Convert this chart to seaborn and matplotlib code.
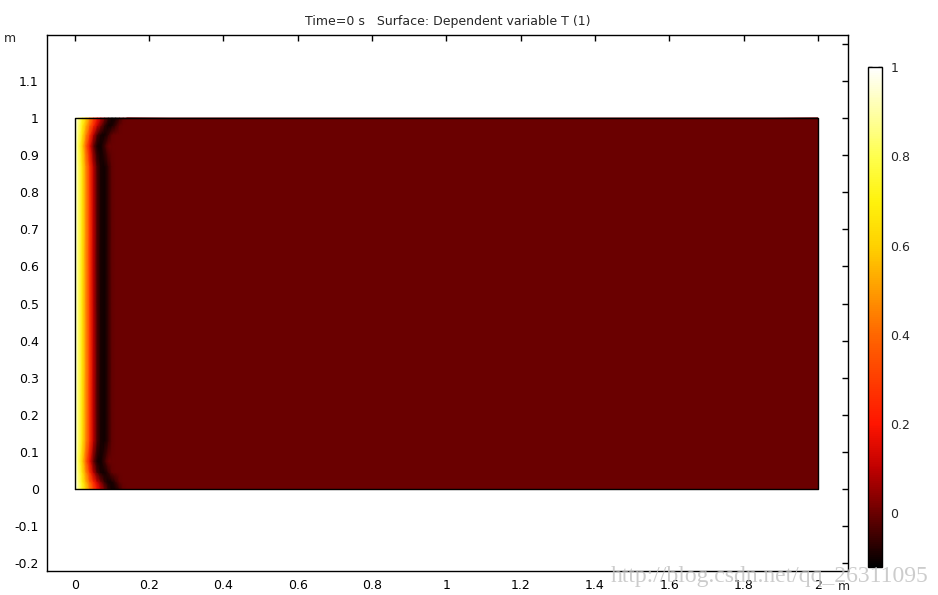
import numpy as np
import matplotlib
matplotlib.use("Agg")
import matplotlib.pyplot as plt
import seaborn as sns
from matplotlib.colors import LinearSegmentedColormap

# grid nodes of the temperature field (m)
x_nodes = [0.0, 0.01, 0.02, 0.03, 0.04, 0.05, 0.06, 0.07, 0.08, 0.09,
           0.10, 0.11, 0.12, 0.13, 0.14, 2.0]
y_nodes = [0.0, 0.02, 0.045, 0.075, 0.13, 0.5, 0.87, 0.925, 0.955, 0.98, 1.0]

# T profiles along x
t_mid = [1.0, 0.83, 0.66, 0.47, 0.28, 0.1, -0.03, -0.09, -0.1, -0.06,
         -0.01, 0.0, 0.0, 0.0, 0.0, 0.0]
t_tight = [1.0, 0.8, 0.6, 0.38, 0.17, 0.0, -0.09, -0.1, -0.05, 0.0,
           0.0, 0.0, 0.0, 0.0, 0.0, 0.0]
t_wide = [1.0, 0.85, 0.7, 0.54, 0.39, 0.25, 0.12, 0.02, -0.06, -0.1,
          -0.09, -0.05, -0.01, 0.0, 0.0, 0.0]
t_corner = [1.0, 0.87, 0.74, 0.6, 0.46, 0.33, 0.2, 0.1, 0.02, -0.06,
            -0.1, -0.09, -0.05, -0.01, 0.0, 0.0]

field_rows = [t_corner, t_wide, t_mid, t_tight, t_mid, t_mid,
              t_mid, t_tight, t_mid, t_wide, t_corner]

x_ticks = [0, 0.2, 0.4, 0.6, 0.8, 1.0, 1.2, 1.4, 1.6, 1.8, 2.0]
y_ticks = [-0.2, -0.1, 0, 0.1, 0.2, 0.3, 0.4, 0.5, 0.6, 0.7, 0.8, 0.9, 1.0, 1.1, 1.2]
cbar_ticks = [0, 0.2, 0.4, 0.6, 0.8, 1.0]
t_min, t_max = -0.12, 1.0

sns.set_theme(style="white")
plt.rcParams['font.family'] = ['DejaVu Sans']

cmap_pts = [(-0.12, (0, 0, 0)), (0.0, (0.42, 0, 0)), (0.1, (0.75, 0, 0)),
            (0.2, (1.0, 0.08, 0)), (0.4, (1.0, 0.4, 0)), (0.6, (1.0, 0.82, 0)),
            (0.7, (1.0, 0.95, 0.05)), (0.8, (1.0, 1.0, 0.3)),
            (0.9, (1.0, 1.0, 0.65)), (1.0, (1.0, 1.0, 1.0))]
heat = LinearSegmentedColormap.from_list(
    "heat", [((v - t_min) / (t_max - t_min), c) for v, c in cmap_pts])

fig = plt.figure(figsize=(9.38, 5.95), dpi=100)
ax = fig.add_axes([0.0501, 0.0403, 0.854, 0.901])
cax = fig.add_axes([0.9254, 0.047, 0.0149, 0.840])

X, Y = np.meshgrid(x_nodes, y_nodes)
T = np.array(field_rows)
mesh = ax.pcolormesh(X, Y, T, shading='gouraud', cmap=heat, vmin=t_min, vmax=t_max)

# domain boundary
x0, x1 = x_nodes[0], x_nodes[-1]
y0, y1 = y_nodes[0], y_nodes[-1]
ax.plot([x0, x1, x1, x0, x0], [y0, y0, y1, y1, y0], color='black', lw=1)

fs = 9
ax.set_xlim(-0.075, 2.081)
ax.set_ylim(-0.221, 1.224)
ax.set_xticks(x_ticks)
ax.set_xticklabels([f"{v:g}" for v in x_ticks])
ax.set_yticks(y_ticks)
ax.set_yticklabels([f"{v:g}" if v < 1.15 else "" for v in y_ticks])
ax.tick_params(direction='in', length=4, width=1, top=True, right=True,
               labelsize=fs, colors='black', pad=6)
for s in ax.spines.values():
    s.set_color('black')
    s.set_linewidth(1)

ax.set_title("Time=0 s   Surface: Dependent variable T (1)", fontsize=fs, pad=7)

cb = fig.colorbar(mesh, cax=cax, ticks=cbar_ticks)
cb.ax.set_yticklabels([f"{v:g}" for v in cbar_ticks])
cb.ax.tick_params(direction='in', length=3, width=1, left=True, right=True,
                  labelsize=fs, pad=6)
cb.outline.set_edgecolor('black')
cb.outline.set_linewidth(1)

fig.text(4 / 938, 1 - 38 / 595, "m", fontsize=fs, va='center')
fig.text(838 / 938, 1 - 587 / 595, "m", fontsize=fs, va='center')
fig.text(0.99, 0.014, "http://blog.csdn.net/qq_26311095", fontsize=17,
         family='Liberation Serif', color='#c0c0c0', alpha=0.8, ha='right', va='bottom')

fig.savefig("out.png", dpi=100)
